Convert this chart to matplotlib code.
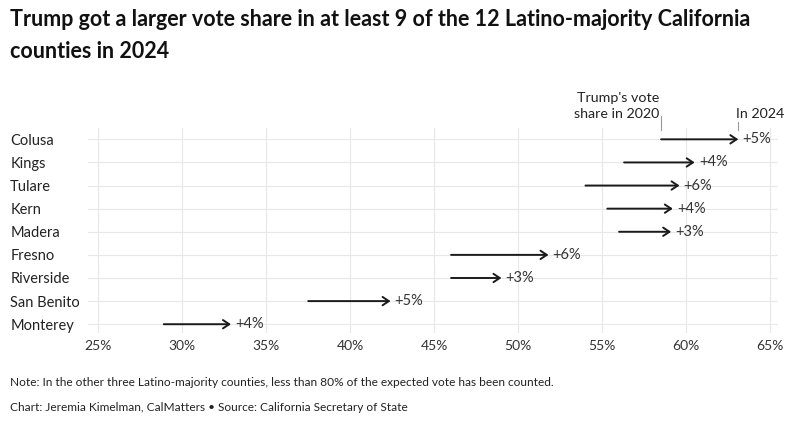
import matplotlib
matplotlib.use("Agg")
import matplotlib.pyplot as plt
from matplotlib.transforms import blended_transform_factory

plt.rcParams['font.family'] = ['Lato', 'DejaVu Sans']

counties = ["Colusa", "Kings", "Tulare", "Kern", "Madera", "Fresno", "Riverside", "San Benito", "Monterey"]
share_2020 = [58.5, 56.3, 54.0, 55.3, 56.0, 46.0, 46.0, 37.5, 28.9]
share_2024 = [63.1, 60.5, 59.6, 59.2, 59.1, 51.8, 49.0, 42.4, 32.9]
change_labels = ["+5%", "+4%", "+6%", "+4%", "+3%", "+6%", "+3%", "+5%", "+4%"]
xticks = [25, 30, 35, 40, 45, 50, 55, 60, 65]
xtick_labels = ["25%", "30%", "35%", "40%", "45%", "50%", "55%", "60%", "65%"]

W, H = 796, 423
fig = plt.figure(figsize=(W / 100, H / 100), dpi=100)
fig.patch.set_facecolor("white")
ax = fig.add_axes([88 / W, 1 - 333 / H, (778 - 88) / W, (333 - 128) / H])

ax.set_xlim(24.39, 65.46)
ax.set_ylim(8.38, -0.49)

ypos = list(range(len(counties)))
ax.set_xticks(xticks)
ax.set_xticklabels(xtick_labels, fontsize=10, color="#333333")
ax.set_yticks(ypos)
ax.set_yticklabels(counties, fontsize=10.5, color="#222222", ha="left")
ax.tick_params(axis="y", length=0, pad=56)
ax.tick_params(axis="x", length=0, pad=5)
for s in ax.spines.values():
    s.set_visible(False)
ax.grid(True, color="#e8e8e8", linewidth=0.8)
ax.set_axisbelow(True)

for i, (a, b, lab) in enumerate(zip(share_2020, share_2024, change_labels)):
    ax.annotate("", xy=(b, i), xytext=(a, i),
                arrowprops=dict(arrowstyle="->,head_length=0.45,head_width=0.3",
                                color="#1a1a1a", lw=1.4, shrinkA=0, shrinkB=0))
    ax.annotate(lab, xy=(b, i), xytext=(3, 0), textcoords="offset points",
                ha="left", va="center", fontsize=10.5, color="#333333")

# header annotations
trans = blended_transform_factory(ax.transData, fig.transFigure)
fig_text_y = 1 - 118 / H
ax.text(share_2020[0] - 0.08, fig_text_y, "Trump's vote\nshare in 2020", transform=trans,
        ha="right", va="baseline", fontsize=10.3, color="#222222", linespacing=1.4,
        clip_on=False)
ax.text(share_2024[0] - 0.15, fig_text_y, "In 2024", transform=trans,
        ha="left", va="baseline", fontsize=10.3, color="#222222", clip_on=False)
ax.plot([share_2020[0], share_2020[0]], [1 - 116 / H, 1 - 130 / H], transform=trans,
        color="#999999", lw=0.8, clip_on=False)
ax.plot([share_2024[0], share_2024[0]], [1 - 122 / H, 1 - 130 / H], transform=trans,
        color="#999999", lw=0.8, clip_on=False)

fig.text(10 / W, 1 - 20 / H, "Trump got a larger vote share in at least 9 of the 12 Latino-majority California",
         fontsize=15.5, fontweight="bold", color="#111111", va="center", ha="left")
fig.text(10 / W, 1 - 51 / H, "counties in 2024",
         fontsize=15.5, fontweight="bold", color="#111111", va="center", ha="left")
fig.text(10 / W, 1 - 382 / H, "Note: In the other three Latino-majority counties, less than 80% of the expected vote has been counted.",
         fontsize=8.6, color="#222222", va="center", ha="left")
fig.text(10 / W, 1 - 407 / H, "Chart: Jeremia Kimelman, CalMatters \u2022 Source: California Secretary of State",
         fontsize=8.6, color="#222222", va="center", ha="left")

fig.savefig("out.png", dpi=100, facecolor="white")
